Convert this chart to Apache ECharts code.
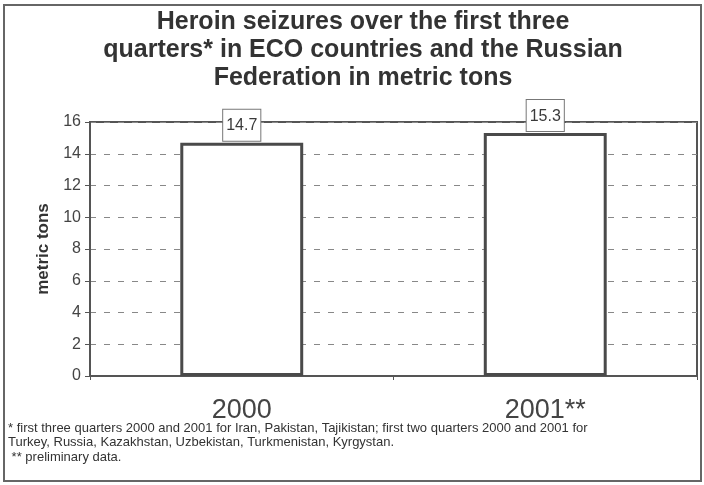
<!DOCTYPE html>
<html lang="en">
<head>
    <meta charset="UTF-8">
    <title>Heroin seizures</title>
    <script src="https://cdn.jsdelivr.net/npm/echarts@6/dist/echarts.min.js"></script>
    <style>
        html, body { margin: 0; padding: 0; background: #fff; }
        #chart { width: 704px; height: 485px; }
    </style>
</head>
<body>
<div id="chart"></div>
<script>
    var years = ['2000', '2001**'];
    var seizures = [14.7, 15.3];
    var footnotes = [
        '* first three quarters 2000 and 2001 for Iran, Pakistan, Tajikistan; first two quarters 2000 and 2001 for',
        'Turkey, Russia, Kazakhstan, Uzbekistan, Turkmenistan, Kyrgystan.',
        ' ** preliminary data.'
    ];

    var chart = echarts.init(document.getElementById('chart'));
    var option = {
        backgroundColor: '#fff',
        animation: false,
        grid: {
            left: 90,
            right: 7,
            top: 122,
            bottom: 109,
            show: true,
            borderColor: '#555',
            borderWidth: 2,
            backgroundColor: 'transparent'
        },
        xAxis: {
            type: 'category',
            data: years,
            axisLine: { lineStyle: { color: '#555', width: 2 } },
            axisTick: { show: true, length: 4, lineStyle: { color: '#555' } },
            axisLabel: {
                margin: 21,
                fontFamily: 'Liberation Sans, Arial',
                fontSize: 27,
                color: '#444'
            }
        },
        yAxis: {
            type: 'value',
            min: 0,
            max: 16,
            interval: 2,
            name: 'metric tons',
            nameLocation: 'middle',
            nameGap: 36,
            nameTextStyle: {
                fontFamily: 'Liberation Sans, Arial',
                fontSize: 17,
                fontWeight: 'bold',
                color: '#333'
            },
            axisLine: { show: true, lineStyle: { color: '#555', width: 2 } },
            axisTick: { show: true, length: 5, lineStyle: { color: '#555' } },
            axisLabel: {
                margin: 9,
                fontFamily: 'Liberation Sans, Arial',
                fontSize: 16,
                color: '#444'
            },
            splitLine: {
                show: true,
                lineStyle: { color: '#888', type: [6, 8], width: 1 }
            }
        },
        series: [{
            type: 'bar',
            data: seizures,
            barWidth: '40.5%',
            itemStyle: {
                color: '#fff',
                borderColor: '#4a4a4a',
                borderWidth: 3
            },
            label: {
                show: true,
                position: 'top',
                distance: 2,
                fontFamily: 'Liberation Sans, Arial',
                fontSize: 16,
                color: '#3a3a3a',
                backgroundColor: '#fff',
                borderColor: '#777',
                borderWidth: 1,
                padding: [8, 3, 7, 3]
            }
        }],
        graphic: [
            {
                type: 'rect',
                shape: { x: 4, y: 5, width: 697, height: 476 },
                style: { fill: 'none', stroke: '#666', lineWidth: 2 },
                silent: true
            },
            {
                // title, centred a little right of the page centre as in the scan
                type: 'text',
                x: 363,
                y: 8,
                style: {
                    text: 'Heroin seizures over the first three\nquarters* in ECO countries and the Russian\nFederation in metric tons',
                    align: 'center',
                    fontFamily: 'Liberation Sans, Arial',
                    fontSize: 25,
                    fontWeight: 'bold',
                    lineHeight: 28,
                    fill: '#333'
                }
            },
            {
                type: 'text',
                left: 8,
                top: 421,
                style: {
                    text: footnotes.join('\n'),
                    fontFamily: 'Liberation Sans, Arial',
                    fontSize: 13,
                    lineHeight: 14.5,
                    fill: '#333'
                }
            }
        ]
    };
    chart.setOption(option);
</script>
</body>
</html>
